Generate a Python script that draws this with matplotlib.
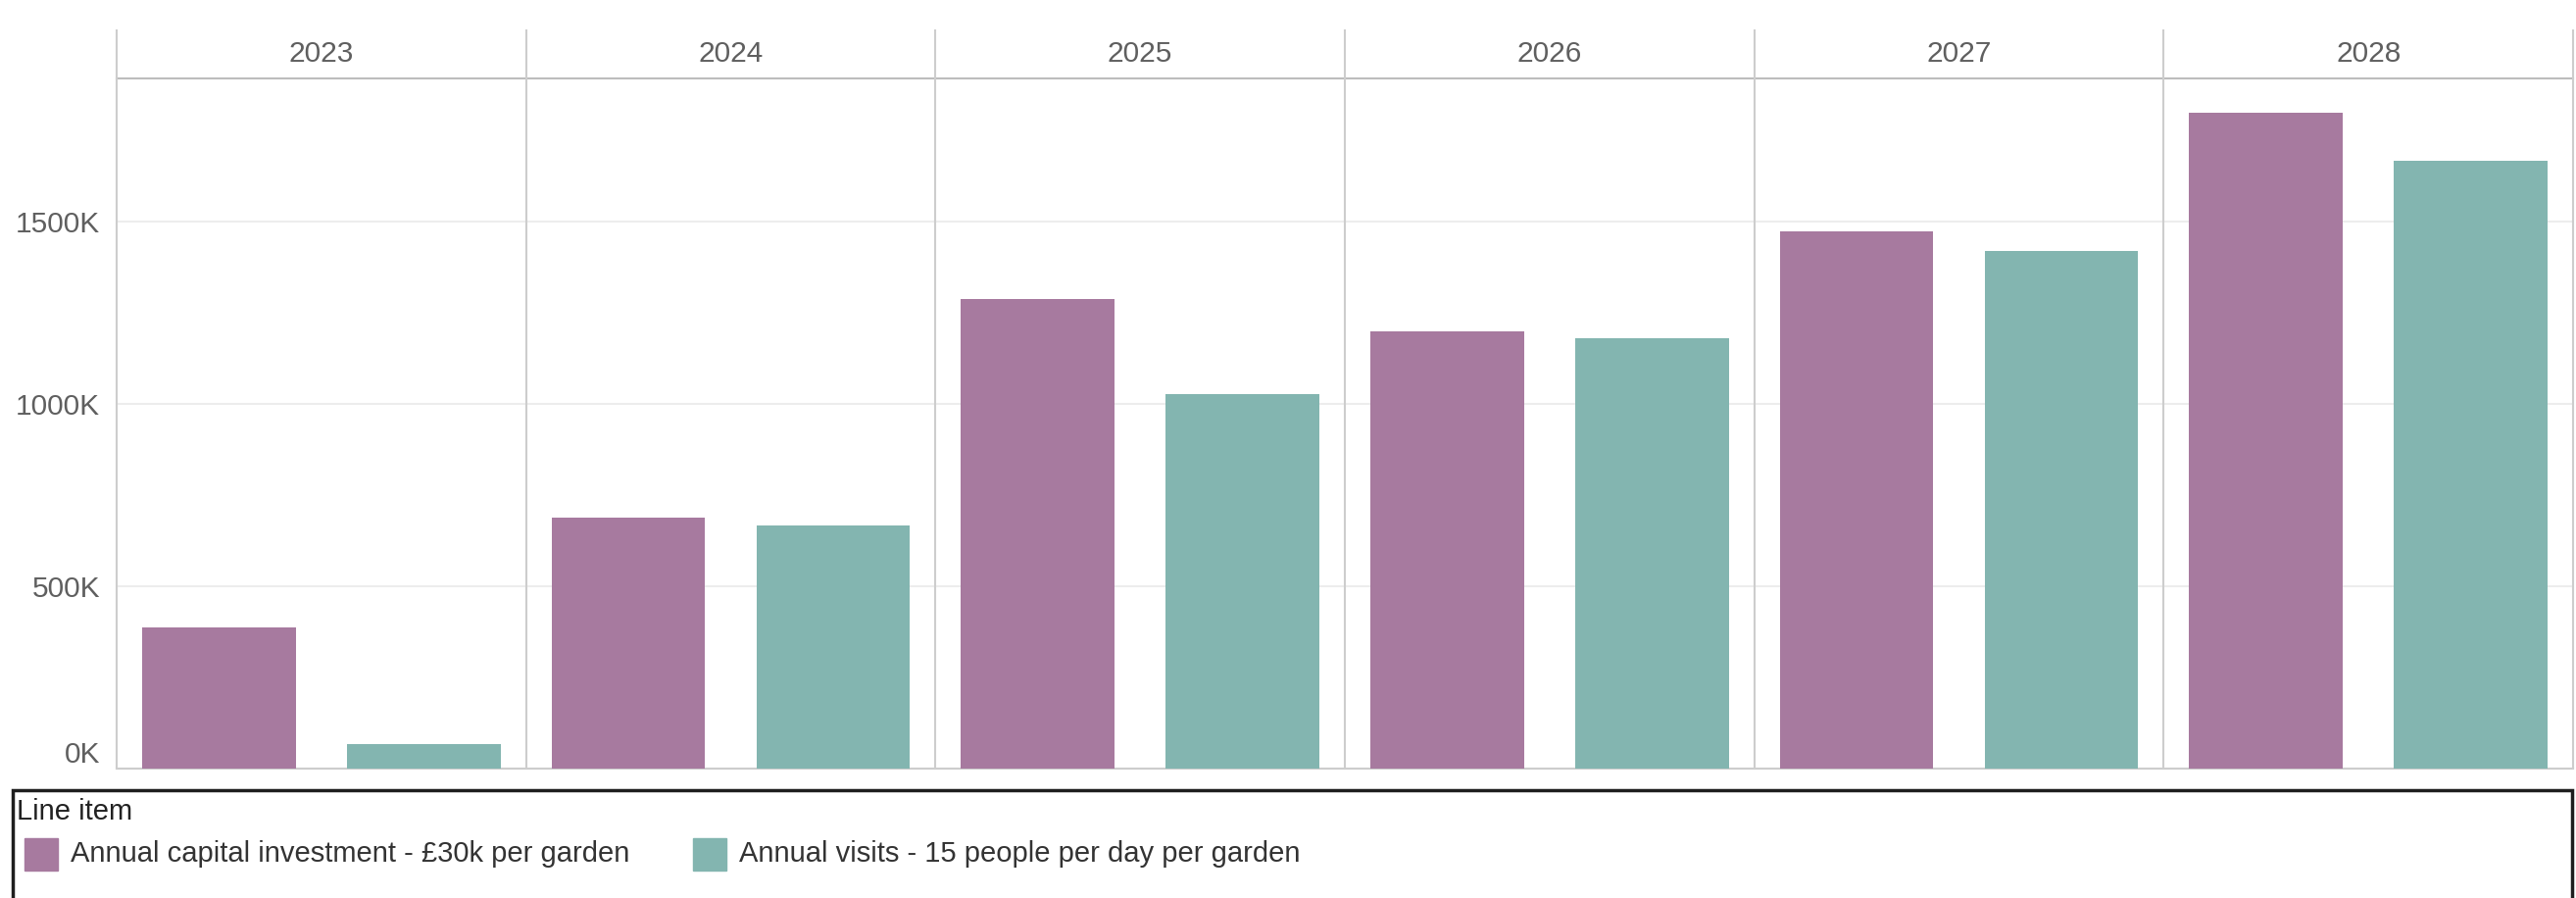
import matplotlib
matplotlib.use('Agg')
import numpy as np
import matplotlib.pyplot as plt
from matplotlib.patches import Rectangle


# ************ DATA ***************

YEARS = ['2023', '2024', '2025', '2026', '2027', '2028']

# values in thousands
CAPITAL_INVESTMENT = [387, 688, 1288, 1198, 1473, 1798]
ANNUAL_VISITS = [67, 667, 1027, 1180, 1419, 1667]

SERIES_NAMES = ['Annual capital investment - £30k per garden',
                'Annual visits - 15 people per day per garden']

Y_TICKS = [0, 500, 1000, 1500]
Y_TICK_LABELS = ['0K', '500K', '1000K', '1500K']


# ************ STYLE ***************

PURPLE = '#a77a9f'
TEAL = '#83b5b0'
LINE_GRAY = '#cdcdcd'
TEXT_GRAY = '#5f5f5f'
FONT_SIZE = 21.5
LEGEND_FONT_SIZE = 21

W, H = 2628, 916

plt.rcParams['font.family'] = ['Liberation Sans', 'DejaVu Sans']


def fx(px):
    return px / W


def fy(py):
    return 1 - py / H


# plot area in pixels
LEFT, RIGHT, TOP, BOTTOM, HEADER_TOP = 119, 2625, 80, 784, 30

fig = plt.figure(figsize=(W / 100, H / 100), dpi=100)
ax = fig.add_axes([fx(LEFT), fy(BOTTOM), (RIGHT - LEFT) / W, (BOTTOM - TOP) / H])

x = np.arange(len(YEARS))
ax.bar(x - 0.25, CAPITAL_INVESTMENT, width=0.375, color=PURPLE, zorder=3)
ax.bar(x + 0.25, ANNUAL_VISITS, width=0.375, color=TEAL, zorder=3)

ax.set_xlim(-0.5, len(YEARS) - 0.5)
ax.set_ylim(0, 1892)

ax.set_xticks([])
ax.set_yticks(Y_TICKS, Y_TICK_LABELS)
ax.tick_params(axis='y', length=0, pad=12, labelsize=FONT_SIZE, labelcolor=TEXT_GRAY)
ax.yaxis.get_major_ticks()[0].label1.set_va('bottom')

ax.yaxis.grid(True, color='#ededed', lw=1.5)
ax.set_axisbelow(True)

for side in ['left', 'right']:
    ax.spines[side].set_visible(False)
ax.spines['top'].set_color('#bdbdbd')
ax.spines['top'].set_linewidth(1.5)
ax.spines['bottom'].set_color(LINE_GRAY)
ax.spines['bottom'].set_linewidth(1.5)

# panel dividers run up through the year header
header_top = 1 + (TOP - HEADER_TOP) / (BOTTOM - TOP)
ax.vlines(np.arange(-0.5, len(YEARS)), 0, header_top, transform=ax.get_xaxis_transform(),
          colors=LINE_GRAY, lw=1.5, clip_on=False, zorder=4)

header_mid = 1 + (TOP - HEADER_TOP) / 2 / (BOTTOM - TOP)
for i, year in enumerate(YEARS):
    ax.text(i, header_mid, year, transform=ax.get_xaxis_transform(), ha='center', va='center',
            fontsize=FONT_SIZE, color=TEXT_GRAY)


# ************ LEGEND ***************

fig.patches.append(Rectangle((fx(13), fy(940)), (2624 - 13) / W, (940 - 806) / H,
                             transform=fig.transFigure, fill=False, ec='#1e1e1e', lw=2.5))
fig.text(fx(17), fy(828), 'Line item', ha='left', va='center', fontsize=LEGEND_FONT_SIZE, color='#222222')

for patch_x, text_x, color, name in [(25, 72, PURPLE, SERIES_NAMES[0]), (707, 754, TEAL, SERIES_NAMES[1])]:
    fig.patches.append(Rectangle((fx(patch_x), fy(888)), 34 / W, 33 / H,
                                 transform=fig.transFigure, color=color))
    fig.text(fx(text_x), fy(871), name, ha='left', va='center', fontsize=LEGEND_FONT_SIZE, color='#333333')

fig.savefig('out.png', dpi=100)
